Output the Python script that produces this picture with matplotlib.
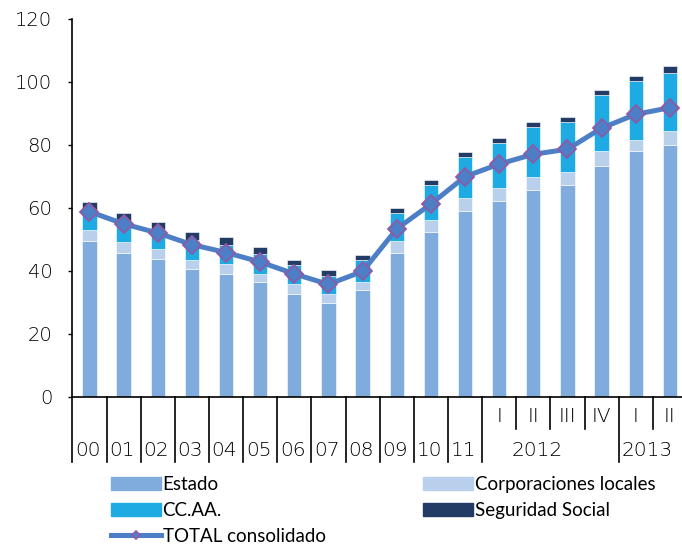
import matplotlib
matplotlib.use("Agg")
import matplotlib.pyplot as plt
from matplotlib.patches import Patch
from matplotlib.lines import Line2D

# periods on the category axis
periods = ["00", "01", "02", "03", "04", "05", "06", "07", "08", "09", "10", "11",
           "2012-I", "2012-II", "2012-III", "2012-IV", "2013-I", "2013-II"]
year_labels = ["00", "01", "02", "03", "04", "05", "06", "07", "08", "09", "10", "11"]
quarter_labels = ["I", "II", "III", "IV", "I", "II"]

# debt by sub-sector (% GDP)
estado = [49.6, 45.8, 43.8, 40.5, 39.0, 36.3, 32.6, 29.9, 33.8, 45.8, 52.2, 59.1,
          62.3, 65.5, 67.1, 73.4, 77.9, 79.9]
corporaciones = [3.2, 3.4, 3.2, 2.9, 3.2, 2.7, 3.3, 2.8, 2.6, 3.8, 3.8, 3.9,
                 3.9, 4.3, 4.3, 4.5, 3.7, 4.4]
ccaa = [6.5, 6.4, 6.3, 6.5, 6.0, 6.4, 5.8, 5.7, 6.9, 8.6, 11.2, 13.2,
        14.3, 16.0, 16.0, 18.0, 18.6, 18.6]
seg_social = [2.5, 2.6, 2.1, 2.5, 2.6, 2.2, 1.7, 1.7, 1.6, 1.6, 1.6, 1.6,
              1.6, 1.6, 1.6, 1.6, 1.6, 2.1]
total = [58.8, 54.9, 52.0, 48.3, 45.8, 42.8, 39.0, 35.7, 39.8, 53.3, 61.2, 69.9,
         73.9, 77.0, 78.6, 85.3, 89.7, 91.8]

c_estado = "#7FACDC"
c_corp = "#B9D0EC"
c_ccaa = "#1EAAE2"
c_ss = "#233C66"
c_line = "#4D7FC6"
c_mark_edge = "#8E5AA8"

fig = plt.figure(figsize=(6.82, 5.46), dpi=100)
ax = fig.add_axes([0.1062, 0.2735, 0.8938, 0.6918])

x = list(range(len(periods)))
w = 0.42
bottom = [0.0] * len(x)
for vals, col in [(estado, c_estado), (corporaciones, c_corp), (ccaa, c_ccaa), (seg_social, c_ss)]:
    ax.bar(x, vals, w, bottom=bottom, color=col, edgecolor="white", linewidth=0.4, zorder=2)
    bottom = [b + v for b, v in zip(bottom, vals)]

ax.plot(x, total, color=c_line, lw=3.6, marker="D", markersize=9,
        markerfacecolor=c_line, markeredgecolor=c_mark_edge, markeredgewidth=1.3, zorder=3)

ax.set_ylim(0, 120)
ax.set_xlim(-0.5, 17.356)
ax.set_yticks(range(0, 121, 20))
ax.tick_params(axis="y", direction="out", length=3, width=1, pad=11.5, labelsize=14, colors="black")
for lbl in ax.get_yticklabels():
    lbl.set_fontweight("light")
ax.set_xticks([])
for side in ["top", "right"]:
    ax.spines[side].set_visible(False)
ax.spines["left"].set_linewidth(1.2)
ax.spines["bottom"].set_linewidth(1.2)

# two-level category axis
tr = ax.get_xaxis_transform()
long_lines = [i - 0.5 for i in range(13)] + [15.5]
short_lines = [12.5, 13.5, 14.5, 16.5]
for b in long_lines:
    ax.plot([b, b], [0, -0.173], color="black", lw=1.2, transform=tr, clip_on=False)
for b in short_lines:
    ax.plot([b, b], [0, -0.0855], color="black", lw=1.2, transform=tr, clip_on=False)
for i, lab in enumerate(year_labels):
    ax.text(i - 0.42, -0.1424, lab, transform=tr, ha="left", va="center",
            fontsize=14.5, fontweight="light")
for i, lab in enumerate(quarter_labels):
    ax.text(12 + i, -0.0524, lab, transform=tr, ha="center", va="center",
            fontsize=14.5, fontweight="light")
ax.text(13.1, -0.1424, "2012", transform=tr, ha="center", va="center",
        fontsize=14.5, fontweight="light")
ax.text(15.6, -0.1424, "2013", transform=tr, ha="left", va="center",
        fontsize=14.5, fontweight="light")

# legend, two columns
leg_kw = dict(frameon=False, handlelength=2.65, handletextpad=0.1,
              labelspacing=0.47, borderpad=0, borderaxespad=0,
              prop={"family": "Lato", "size": 13.5})
h1 = [Patch(color=c_estado), Patch(color=c_ccaa),
      Line2D([], [], color=c_line, lw=3.6, marker="D", markersize=4,
             markerfacecolor=c_line, markeredgecolor=c_mark_edge, markeredgewidth=1.2)]
fig.legend(h1, ["Estado", "CC.AA.", "TOTAL consolidado"], loc="upper left",
           bbox_to_anchor=(111 / 682, 1 - 476 / 546), **leg_kw)
h2 = [Patch(color=c_corp), Patch(color=c_ss)]
fig.legend(h2, ["Corporaciones locales", "Seguridad Social"], loc="upper left",
           bbox_to_anchor=(423 / 682, 1 - 476 / 546), **leg_kw)

fig.savefig("out.png", dpi=100)
